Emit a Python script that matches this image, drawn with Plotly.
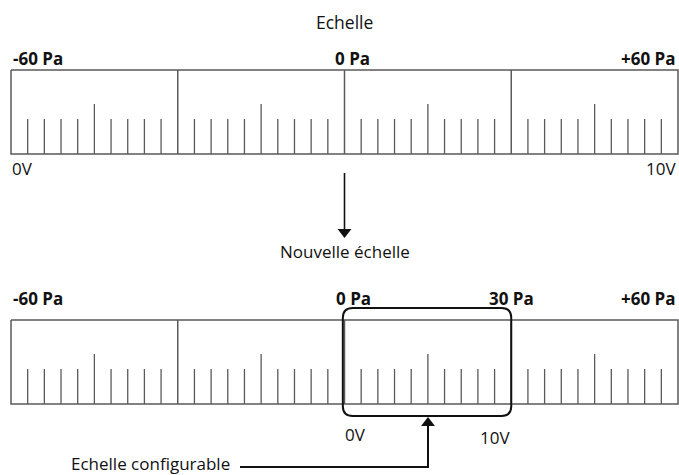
import plotly.graph_objects as go

# ---- data ----
scale_min, scale_max = -60, 60          # Pa
section_edges = [-60, -30, 0, 30, 60]   # Pa, major dividers
minor_step = 3                          # Pa between small ticks
mid_ticks = [-45, -15, 15, 45]          # Pa, taller ticks
top_pressure_labels = ["-60 Pa", "0 Pa", "+60 Pa"]
top_voltage_labels = ["0V", "10V"]
bottom_pressure_labels = ["-60 Pa", "0 Pa", "30 Pa", "+60 Pa"]
bottom_voltage_labels = ["0V", "10V"]
config_range = [0, 30]                  # Pa, configurable window
title_top = "Echelle"
title_bottom = "Nouvelle échelle"
callout = "Echelle configurable"

W, H = 679, 475
PX_LEFT, PX_RIGHT = 11, 678
ppp = (PX_RIGHT - PX_LEFT) / (scale_max - scale_min)   # pixels per Pa
def px2pa(px):
    return (px - PX_LEFT) / ppp + scale_min

GRAY = "#5a5a5a"
FONT = "Open Sans"

fig = go.Figure()

def draw_scale(y_top, y_bot):
    xs, ys = [], []
    xs += [scale_min, scale_max, scale_max, scale_min, scale_min, None]
    ys += [y_top, y_top, y_bot, y_bot, y_top, None]
    for e in section_edges[1:-1]:
        xs += [e, e, None]; ys += [y_top, y_bot, None]
    fig.add_trace(go.Scatter(x=xs, y=ys, mode="lines",
                             line=dict(color=GRAY, width=1.5),
                             hoverinfo="skip", showlegend=False))
    xs, ys = [], []
    v = scale_min
    while v <= scale_max:
        if v not in section_edges:
            top = y_bot - 50 if v in mid_ticks else y_bot - 35
            xs += [v, v, None]; ys += [y_bot, top, None]
        v += minor_step
    fig.add_trace(go.Scatter(x=xs, y=ys, mode="lines",
                             line=dict(color=GRAY, width=1.3),
                             hoverinfo="skip", showlegend=False))

draw_scale(70, 154)
draw_scale(320, 404)

def label(text, x, y, anchor="center", bold=False, size=17):
    fig.add_annotation(x=x, y=y, text=f"<b>{text}</b>" if bold else text,
                       showarrow=False, xanchor=anchor, yanchor="middle",
                       borderpad=0,
                       font=dict(family=FONT, size=size, color="#111"))

# top scale labels
label(title_top, 0, 22, size=17.5)
label(top_pressure_labels[0], px2pa(12), 58, "left", True)
label(top_pressure_labels[1], px2pa(334), 58, "left", True)
label(top_pressure_labels[2], px2pa(677), 58, "right", True)
label(top_voltage_labels[0], px2pa(11), 168, "left")
label(top_voltage_labels[1], px2pa(677), 168, "right")

# down arrow
fig.add_trace(go.Scatter(x=[0, 0], y=[173, 229], mode="lines",
                         line=dict(color="#111", width=1.6),
                         hoverinfo="skip", showlegend=False))
fig.add_trace(go.Scatter(x=[0], y=[232], mode="markers",
                         marker=dict(symbol="triangle-down", size=12, color="#111"),
                         hoverinfo="skip", showlegend=False))
label(title_bottom, 0, 251)

# bottom labels
label(bottom_pressure_labels[0], px2pa(12), 298, "left", True)
label(bottom_pressure_labels[1], px2pa(335), 298, "left", True)
label(bottom_pressure_labels[2], config_range[1], 298, "center", True)
label(bottom_pressure_labels[3], px2pa(677), 298, "right", True)
label(bottom_voltage_labels[0], px2pa(344), 434, "left")
label(bottom_voltage_labels[1], px2pa(511), 437, "right")

# rounded box around configurable range
x0, x1 = config_range[0] - 0.3, config_range[1]
y0, y1 = 308, 416
rx, ry = 10 / ppp, 10
path = (f"M {x0+rx},{y0} L {x1-rx},{y0} Q {x1},{y0} {x1},{y0+ry} "
        f"L {x1},{y1-ry} Q {x1},{y1} {x1-rx},{y1} L {x0+rx},{y1} "
        f"Q {x0},{y1} {x0},{y1-ry} L {x0},{y0+ry} Q {x0},{y0} {x0+rx},{y0} Z")
fig.add_shape(type="path", path=path, line=dict(color="#111", width=2),
              xref="x", yref="y")

# callout arrow
ax = px2pa(428)
fig.add_trace(go.Scatter(x=[px2pa(240), ax, ax], y=[467, 467, 426], mode="lines",
                         line=dict(color="#111", width=2),
                         hoverinfo="skip", showlegend=False))
fig.add_trace(go.Scatter(x=[ax], y=[423], mode="markers",
                         marker=dict(symbol="triangle-up", size=12, color="#111"),
                         hoverinfo="skip", showlegend=False))
label(callout, px2pa(231), 463, "right")

fig.update_layout(
    width=W, height=H, margin=dict(l=0, r=0, t=0, b=0),
    paper_bgcolor="white", plot_bgcolor="white",
    xaxis=dict(range=[px2pa(0), px2pa(W)], visible=False, fixedrange=True),
    yaxis=dict(range=[H, 0], visible=False, fixedrange=True),
    showlegend=False,
)
fig.write_html("out.html", config={"displayModeBar": False},
               post_script="document.body.style.margin='0';document.body.style.overflow='hidden';")
